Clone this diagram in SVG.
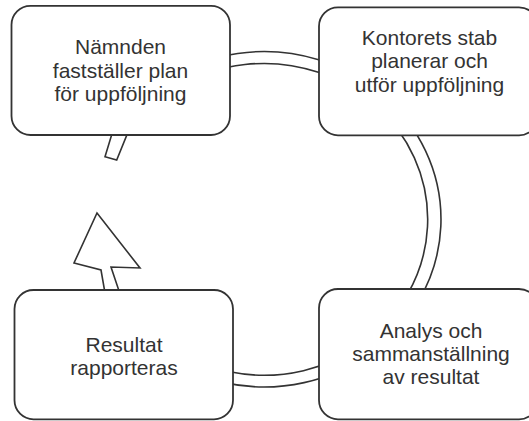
<svg xmlns="http://www.w3.org/2000/svg" width="529" height="421" viewBox="0 0 529 421">
<style>
.box{fill:#fff;stroke:#333;stroke-width:1.8}
.band{fill:#fff;stroke:#333;stroke-width:1.6;stroke-linejoin:miter}
text{font-family:"Liberation Sans",Arial,sans-serif;font-size:21px;fill:#333;text-anchor:middle}
</style>
<rect width="529" height="421" fill="#fff"/>
<g id="connectors">
<path class="band" d="M105,156.7 L112.2,133 A177 167.7 0 1 1 105,293 L101,270 L74,263 L97,213 L140,268 L111,267 L119.7,293 A163.7 155.9 0 1 0 127.7,133 L116.7,160 Z"/>
</g>
<g id="node1">
<rect class="box" x="11.5" y="5.8" width="218.5" height="129.2" rx="19" ry="19"/>
<text x="120.5" y="53.5">Nämnden</text>
<text x="120.5" y="77.5">fastställer plan</text>
<text x="120.5" y="101">för uppföljning</text>
</g>
<g id="node2">
<rect class="box" x="319" y="7.3" width="219" height="128" rx="19" ry="19"/>
<text x="429.5" y="45">Kontorets stab</text>
<text x="429.5" y="68.3">planerar och</text>
<text x="429.5" y="91.7">utför uppföljning</text>
</g>
<g id="node3">
<rect class="box" x="14.5" y="290" width="218.5" height="129.3" rx="19" ry="19"/>
<text x="124" y="351.7">Resultat</text>
<text x="124" y="375">rapporteras</text>
</g>
<g id="node4">
<rect class="box" x="319" y="289" width="219" height="130.3" rx="19" ry="19"/>
<text x="431" y="338.3">Analys och</text>
<text x="431" y="361">sammanställning</text>
<text x="431" y="384">av resultat</text>
</g>
</svg>
